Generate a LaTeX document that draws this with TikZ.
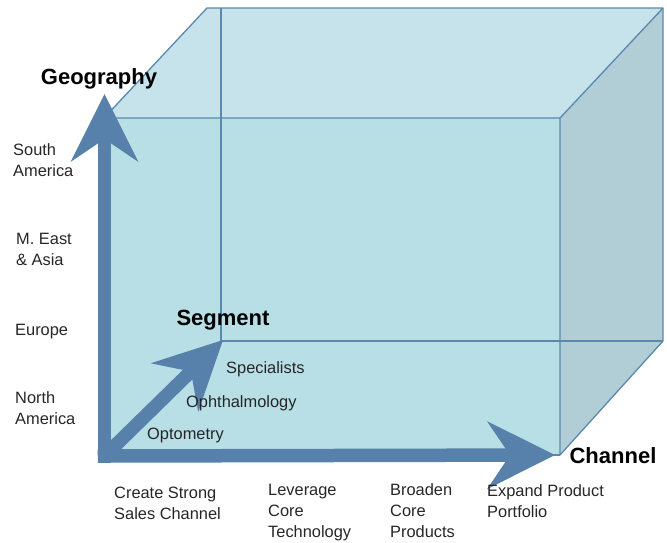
\documentclass[tikz,border=0pt]{standalone}
\usepackage{fontspec}
\setmainfont{Liberation Sans}
\usetikzlibrary{arrows.meta}
\definecolor{topface}{HTML}{C6E3EC}
\definecolor{frontface}{HTML}{B8DEE6}
\definecolor{rightface}{HTML}{B1CDD6}
\definecolor{edgec}{HTML}{5B88AF}
\definecolor{arrowc}{HTML}{5781AA}
\tikzset{
  edge/.style={draw=edgec, line width=1.3pt, line join=round},
  axisarrow/.style={draw=arrowc, line width=13.5pt, line cap=rect,
    -{Stealth[length=68pt, width=68pt, inset=23pt, line width=0pt, fill=arrowc]}},
  lbl/.style={font=\fontsize{16.4}{21}\selectfont, text=black!85, inner sep=0pt, align=left, anchor=west},
  axislbl/.style={font=\fontsize{22}{26}\selectfont\bfseries, inner sep=0pt},
}
\begin{document}
\begin{tikzpicture}[x=1pt,y=-1pt]
\useasboundingbox (0,0) rectangle (667,542);
% box corners
\coordinate (ftl) at (104,118);
\coordinate (ftr) at (560,118);
\coordinate (fbr) at (560,455);
\coordinate (fbl) at (104,455);
\coordinate (btl) at (207,8);
\coordinate (btr) at (663,8);
\coordinate (bbr) at (663,341);
\coordinate (bvt) at (221,8);
\coordinate (bbl) at (221,341);
% faces
\fill[topface] (btl) -- (btr) -- (ftr) -- (ftl) -- cycle;
\fill[rightface] (btr) -- (bbr) -- (fbr) -- (ftr) -- cycle;
\fill[frontface] (ftl) -- (ftr) -- (fbr) -- (fbl) -- cycle;
% hidden edges
\draw[edge] (bvt) -- (bbl) -- (bbr);
% visible edges
\draw[edge] (ftl) -- (btl) -- (btr) -- (bbr) -- (fbr) -- (ftr) -- cycle;
\draw[edge] (ftr) -- (btr);
\draw[edge] (ftl) -- (fbl) -- (fbr);
% axes
\coordinate (origin) at (104.5,456);
\coordinate (geotip) at (104.5,94);
\coordinate (chantip) at (555,455);
\coordinate (segtip) at (223,340);
\draw[axisarrow] (origin) -- (geotip);
\draw[axisarrow] (origin) -- (chantip);
\draw[axisarrow, line cap=butt] (origin) -- (segtip);
% axis titles
\node[axislbl] (geo) at (99,79) {Geography};
\node[axislbl] (seg) at (223,320) {Segment};
\node[axislbl] (chan) at (613,456) {Channel};
% geography labels
\node[lbl] (sa) at (13,160) {South\\America};
\node[lbl] (me) at (16,249) {M. East\\\& Asia};
\node[lbl] (eu) at (15,332) {Europe};
\node[lbl] (na) at (15,408) {North\\America};
% segment labels
\node[lbl] (spec) at (226,369) {Specialists};
\node[lbl] (oph) at (186,403) {Ophthalmology};
\node[lbl] (opt) at (147,435) {Optometry};
% channel labels
\node[lbl] (c1) at (114,503) {Create Strong\\Sales Channel};
\node[lbl] (c2) at (268,513) {Leverage\\Core\\Technology};
\node[lbl] (c3) at (390,511) {Broaden\\Core\\Products};
\node[lbl] (c4) at (487,501) {Expand Product\\Portfolio};
\end{tikzpicture}
\end{document}
